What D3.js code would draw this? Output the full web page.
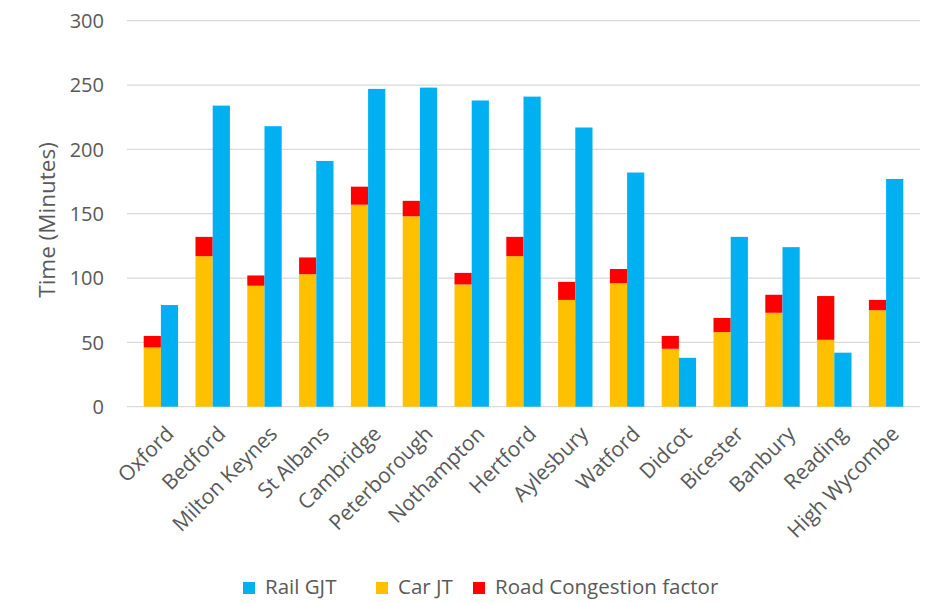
<!DOCTYPE html>
<html><head><meta charset="utf-8">
<script src="https://cdn.jsdelivr.net/npm/d3@7"></script>
<style>body{margin:0;background:#fff}svg{display:block}</style>
</head><body>
<svg id="c" width="934" height="603"></svg>
<script>
const categories = ["Oxford","Bedford","Milton Keynes","St Albans","Cambridge","Peterborough","Nothampton","Hertford","Aylesbury","Watford","Didcot","Bicester","Banbury","Reading","High Wycombe"];
const railGJT = [79,234,218,191,247,248,238,241,217,182,38,132,124,42,177];
const carJT = [46,117,94,103,157,148,95,117,83,96,45,58,73,52,75];
const roadCongestion = [9,15,8,13,14,12,9,15,14,11,10,11,14,34,8];
const yTicks = [0,50,100,150,200,250,300];
const seriesNames = ["Rail GJT","Car JT","Road Congestion factor"];
const colors = {"Rail GJT":"#00B0F0","Car JT":"#FFC000","Road Congestion factor":"#FF0000"};

const svg = d3.select("#c");
const font = "'Open Sans', sans-serif";
const textColor = "#595959";

const y = d3.scaleLinear().domain([0,300]).range([406.7,20.7]);
const x = d3.scaleBand().domain(categories).range([135,912]).paddingInner(0.336).paddingOuter(0.168);
const xs = d3.scaleBand().domain(["car","rail"]).range([0,x.bandwidth()]);

// gridlines
svg.append("g").selectAll("line").data(yTicks).join("line")
  .attr("x1",127).attr("x2",920)
  .attr("y1",d=>y(d)).attr("y2",d=>y(d))
  .attr("stroke","#d9d9d9").attr("stroke-width",1.3);

// y tick labels
svg.append("g").selectAll("text").data(yTicks).join("text")
  .attr("x",104).attr("y",d=>y(d)).attr("dy","0.36em")
  .attr("text-anchor","end").attr("font-family",font).attr("font-size",20).attr("fill",textColor)
  .text(d=>d);

// y title
svg.append("text").attr("transform","translate(55,220) rotate(-90)")
  .attr("text-anchor","middle").attr("font-family",font).attr("font-size",22.5).attr("fill",textColor)
  .text("Time (Minutes)");

const data = categories.map((c,i)=>({c, rail:railGJT[i], car:carJT[i], cong:roadCongestion[i]}));

const g = svg.append("g");
g.selectAll(".car").data(data).join("rect")
  .attr("x",d=>x(d.c)+xs("car")).attr("width",xs.bandwidth())
  .attr("y",d=>y(d.car)).attr("height",d=>y(0)-y(d.car))
  .attr("fill",colors["Car JT"]);
g.selectAll(".cong").data(data).join("rect")
  .attr("x",d=>x(d.c)+xs("car")).attr("width",xs.bandwidth())
  .attr("y",d=>y(d.car+d.cong)).attr("height",d=>y(d.car)-y(d.car+d.cong))
  .attr("fill",colors["Road Congestion factor"]);
g.selectAll(".rail").data(data).join("rect")
  .attr("x",d=>x(d.c)+xs("rail")).attr("width",xs.bandwidth())
  .attr("y",d=>y(d.rail)).attr("height",d=>y(0)-y(d.rail))
  .attr("fill",colors["Rail GJT"]);

// x labels
svg.append("g").selectAll("text").data(categories).join("text")
  .attr("transform",d=>`translate(${x(d)+x.bandwidth()/2+9},${430}) rotate(-45)`)
  .attr("text-anchor","end").attr("dy","0.35em")
  .attr("font-family",font).attr("font-size",21).attr("fill",textColor)
  .text(d=>d);

// legend
const legendX = [243,376,473];
const lg = svg.append("g");
seriesNames.forEach((s,i)=>{
  lg.append("rect").attr("x",legendX[i]).attr("y",582).attr("width",12).attr("height",12).attr("fill",colors[s]);
  lg.append("text").attr("x",legendX[i]+22).attr("y",594)
    .attr("font-family",font).attr("font-size",20.5).attr("fill",textColor).text(s);
});
</script>
</body></html>
